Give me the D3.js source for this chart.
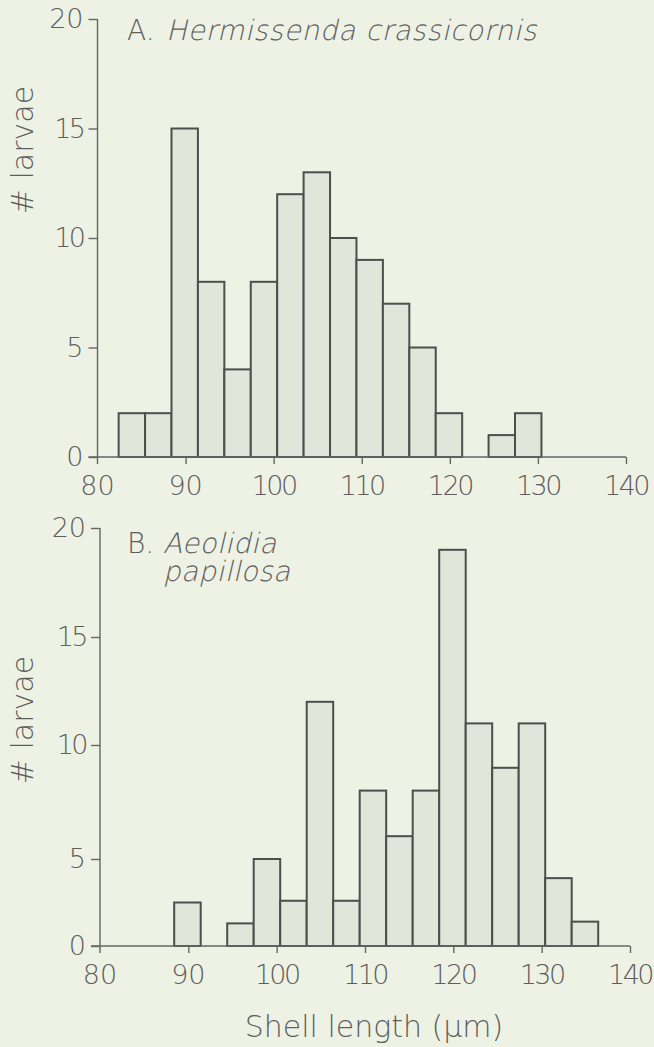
<!DOCTYPE html>
<html>
<head>
<meta charset="utf-8">
<script src="https://cdn.jsdelivr.net/npm/d3@7"></script>
<style>
  html, body { margin: 0; padding: 0; background: #eef2e4; }
  svg { display: block; }
  text { font-family: "DejaVu Sans", sans-serif; font-weight: 200; fill: #5e5e5e; }
</style>
</head>
<body>
<svg id="chart" width="654" height="1047"></svg>
<script>
// ---- data ----
const binEdges = [82.4, 85.4, 88.4, 91.4, 94.4, 97.4, 100.4, 103.4, 106.4, 109.4, 112.4, 115.4, 118.4, 121.4, 124.4, 127.4, 130.4, 133.4, 136.4];
const countsA = [2, 2, 15, 8, 4, 8, 12, 13, 10, 9, 7, 5, 2, 0, 1, 2, 0, 0];
const countsB = [0, 0, 2.5, 0, 1.3, 5, 2.6, 12, 2.6, 8, 6, 8, 19, 11, 9, 11, 3.9, 1.4];
const xTicks = [80, 90, 100, 110, 120, 130, 140];
const yTicks = [0, 5, 10, 15, 20];
const titleA = ["A.", "Hermissenda crassicornis"];
const titleB = ["B.", "Aeolidia", "papillosa"];
const yLabel = "# larvae";
const xLabel = "Shell length (\u03BCm)";

const svg = d3.select("#chart");

// the original "1" is a single narrow stroke: tighten labels that contain it
function lettering(sel) {
  sel.attr("letter-spacing", d => (String(d).includes("1") ? -2.5 : 0));
}

function panel(counts, xRange, yDomain, yRange, yLabelY, titleFn) {
  const x = d3.scaleLinear().domain([80, 140]).range(xRange);
  const y = d3.scaleLinear().domain(yDomain).range(yRange);
  const g = svg.append("g");
  const x0 = xRange[0], base = y(0);

  const bins = counts.map((c, i) => ({ x0: binEdges[i], x1: binEdges[i + 1], c })).filter(d => d.c > 0);
  g.selectAll("rect.bar").data(bins).enter().append("rect")
    .attr("class", "bar")
    .attr("x", d => x(d.x0))
    .attr("width", d => x(d.x1) - x(d.x0))
    .attr("y", d => y(d.c))
    .attr("height", d => base - y(d.c))
    .attr("fill", "#e2e5d9")
    .attr("stroke", "#4e4e4e")
    .attr("stroke-width", 2);

  // y axis
  const ya = g.append("g").attr("transform", `translate(${x0},0)`)
    .call(d3.axisLeft(y).tickValues(yTicks).tickSize(9).tickSizeOuter(0).tickPadding(5));
  ya.select(".domain").remove();
  ya.selectAll(".tick line").attr("stroke", "#666").attr("stroke-width", 1.4);
  ya.selectAll(".tick text").attr("font-size", 27).attr("font-family", "DejaVu Sans")
    .attr("font-weight", 200).attr("fill", "#5e5e5e").call(lettering);
  g.append("line").attr("x1", x0).attr("x2", x0).attr("y1", y(20)).attr("y2", base + 7)
    .attr("stroke", "#666").attr("stroke-width", 1.4);

  // x axis
  const xa = g.append("g").attr("transform", `translate(0,${base})`)
    .call(d3.axisBottom(x).tickValues(xTicks.slice(1)).tickSize(7).tickSizeOuter(0).tickPadding(8));
  xa.select(".domain").remove();
  xa.selectAll(".tick line").attr("stroke", "#666").attr("stroke-width", 1.4);
  xa.selectAll(".tick text").remove();
  g.append("line").attr("x1", x0 - 9).attr("x2", x(140)).attr("y1", base).attr("y2", base)
    .attr("stroke", "#666").attr("stroke-width", 1.4);
  g.selectAll("text.xt").data(xTicks).enter().append("text")
    .attr("class", "xt")
    .attr("x", d => x(d)).attr("y", base + 38)
    .attr("text-anchor", "middle").attr("font-size", 27)
    .text(d => d)
    .call(lettering);

  // y label
  g.append("text")
    .attr("transform", `translate(33,${yLabelY}) rotate(-90)`)
    .attr("text-anchor", "middle").attr("font-size", 30)
    .text(yLabel);

  titleFn(g);
}

function italic(g, str, xPos, yPos, spacing) {
  g.append("text").attr("transform", `translate(${xPos},${yPos}) skewX(-13)`)
    .attr("font-size", 28).attr("letter-spacing", spacing).text(str);
}

panel(countsA, [97.5, 626], [0, 20], [457, 19], 150, (g) => {
  g.append("text").attr("x", 127).attr("y", 40).attr("font-size", 28).text(titleA[0]);
  italic(g, titleA[1], 166, 40, 0.6);
});

panel(countsB, [100, 630], yTicks, [946, 859, 745, 637, 528], 720, (g) => {
  g.append("text").attr("x", 127).attr("y", 553).attr("font-size", 28).text(titleB[0]);
  italic(g, titleB[1], 163, 553, 0.3);
  italic(g, titleB[2], 163, 581, 0.3);
});

svg.append("text")
  .attr("x", 374).attr("y", 1037)
  .attr("text-anchor", "middle").attr("font-size", 30)
  .text(xLabel);
</script>
</body>
</html>
